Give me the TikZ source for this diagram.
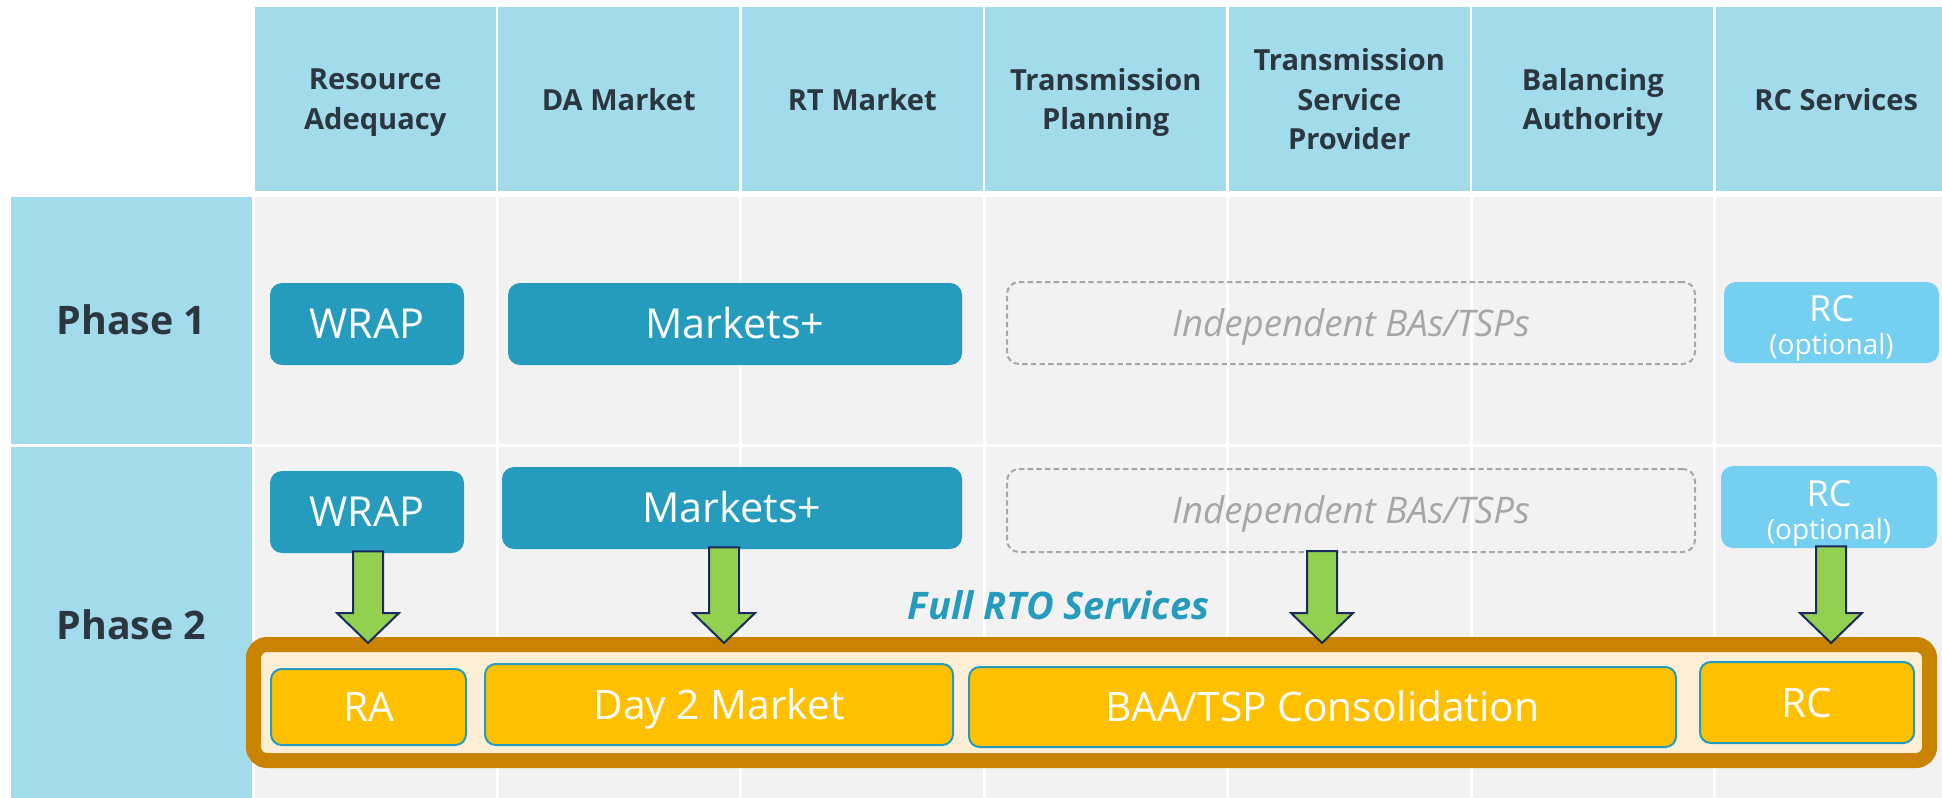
\documentclass[tikz,border=0pt]{standalone}
\usepackage{fontspec}
\setmainfont{Open Sans}
\usetikzlibrary{calc}

\definecolor{hdrblue}{HTML}{A1DBEC}
\definecolor{cellgray}{HTML}{F2F2F2}
\definecolor{wrapteal}{HTML}{259BBD}
\definecolor{rcblue}{HTML}{75CFF0}
\definecolor{dashgray}{HTML}{A6A6A6}
\definecolor{arrowgreen}{HTML}{92D050}
\definecolor{arrownavy}{HTML}{1B2A5C}
\definecolor{rtoorange}{HTML}{C98300}
\definecolor{rtocream}{HTML}{FDEFD6}
\definecolor{rtoyellow}{HTML}{FFC000}
\definecolor{darktext}{HTML}{2C363E}

% block arrow from #1 down to the height of #2
\newcommand{\fatarrow}[2]{%
  \draw[fatarrow] let \p1=#1, \p2=#2 in
    (\x1-11.25pt,\y1) -- (\x1+11.25pt,\y1) -- (\x1+11.25pt,\y2+22.5pt)
    -- (\x1+23.25pt,\y2+22.5pt) -- (\x1,\y2) -- (\x1-23.25pt,\y2+22.5pt)
    -- (\x1-11.25pt,\y2+22.5pt) -- cycle;}

\begin{document}
\begin{tikzpicture} [
                x=0.75pt, y=-0.75pt,
                boxsize/.style 2 args={minimum width=#1*0.75pt, minimum height=#2*0.75pt},
                header/.style={fill=hdrblue, inner sep=0pt, align=center, text=darktext,
                    boxsize={241}{184}, text depth=0pt,
                    font=\bfseries\fontsize{21.8}{29.5}\selectfont},
                phase/.style={fill=hdrblue, inner sep=0pt, text=darktext,
                    text height=21pt, text depth=0pt,
                    font=\bfseries\fontsize{29.5}{34}\selectfont},
                mktbox/.style={fill=wrapteal, rounded corners=9pt, inner sep=0pt,
                    text=white, text height=22pt, text depth=0pt,
                    font=\fontsize{31}{36}\selectfont},
                indbox/.style={draw=dashgray, line width=1.5pt, dash pattern=on 4pt off 2.5pt,
                    rounded corners=9pt, inner sep=0pt, text=dashgray,
                    text height=19.6pt, text depth=0pt,
                    font=\itshape\fontsize{27.5}{32}\selectfont},
                rcbox/.style={fill=rcblue, rounded corners=9pt, inner sep=0pt},
                rctext/.style={text=white, align=center, inner sep=0pt,
                    font=\fontsize{27}{25}\selectfont},
                rtoframe/.style={draw=rtoorange, fill=rtocream, line width=11.25pt,
                    rounded corners=10pt, inner sep=0pt},
                rtobox/.style={draw=wrapteal, fill=rtoyellow, line width=1.5pt,
                    rounded corners=8pt, inner sep=0pt, text=white,
                    text height=21.8pt, text depth=0pt,
                    font=\fontsize{30.5}{36}\selectfont},
                rtolabel/.style={text=wrapteal, inner sep=0pt,
                    text height=20.3pt, text depth=0pt,
                    font=\bfseries\itshape\fontsize{28.5}{32}\selectfont},
                fatarrow/.style={fill=arrowgreen, draw=arrownavy, line width=1.5pt, line join=miter},
            ]
            \useasboundingbox (0,0) rectangle (1942,797);
            \fill[white] (0,0) rectangle (1942,797);
            % grey cells of the two phase rows
            \foreach \i in {0,...,6} {
                \fill[cellgray] (255+243.5*\i,197) rectangle ++(240.5,247);
                \fill[cellgray] (255+243.5*\i,447) rectangle ++(240.5,356);
            }
            % column headers
            \foreach \i/\txt in {
                    0/{Resource\\Adequacy}, 1/{DA Market}, 2/{RT Market},
                    3/{Transmission\\Planning}, 4/{Transmission\\Service\\Provider},
                    5/{Balancing\\Authority}, 6/{RC Services}}
                \node[header] (h\i) at (375.25+243.5*\i,99) {\txt};
            % phase labels
            \node[phase, boxsize={241}{247}] (ph1) at (131.5,320.5) {Phase 1};
            \node[phase, boxsize={241}{356}] (ph2) at (131.5,625) {Phase 2};

            % Phase 1
            \node[mktbox, boxsize={194}{82}] (wrap1) at (367,324) {WRAP};
            \node[mktbox, boxsize={454}{82}] (mkt1) at (735,324) {Markets+};
            \node[indbox, boxsize={688}{82}] (ind1) at (1351,323) {Independent BAs/TSPs};
            \node[rcbox, boxsize={215}{81}] (rc1) at (1831.5,322.5) {};
            \node[rctext] (rc1t) at ($(rc1)+(0,6)$) {RC\\{\fontsize{21}{21}\selectfont(optional)}};

            % Phase 2
            \node[mktbox, boxsize={194}{82}] (wrap2) at (367,512) {WRAP};
            \node[mktbox, boxsize={460}{82}] (mkt2) at (732,508) {Markets+};
            \node[indbox, boxsize={688}{83}] (ind2) at (1351,510.5) {Independent BAs/TSPs};
            \node[rcbox, boxsize={216}{82}] (rc2) at (1829,507) {};
            \node[rctext] (rc2t) at ($(rc2)+(0,6)$) {RC\\{\fontsize{21}{21}\selectfont(optional)}};

            % full RTO services
            \node[rtolabel] (rtolbl) at (1058.5,605.5) {Full RTO Services};
            \node[rtoframe, boxsize={1676}{116}] (rto) at (1091.5,702.5) {};
            \node[rtobox, boxsize={195}{76}] (ra) at (368.5,707) {RA};
            \node[rtobox, boxsize={468}{81}] (day2) at (719,704.5) {Day 2 Market};
            \node[rtobox, boxsize={707}{80}] (baa) at (1322.5,707) {BAA/TSP Consolidation};
            \node[rtobox, boxsize={214}{81}] (rc3) at (1807,702.5) {RC};

            % arrows down into the RTO
            \foreach \src/\dx in {wrap2/1, mkt2/-8, ind2/-29, rc2/2}
                \fatarrow{($(\src.south)+(\dx,-2)$)}{($(rto.north)+(0,6)$)};
        \end{tikzpicture}
\end{document}
